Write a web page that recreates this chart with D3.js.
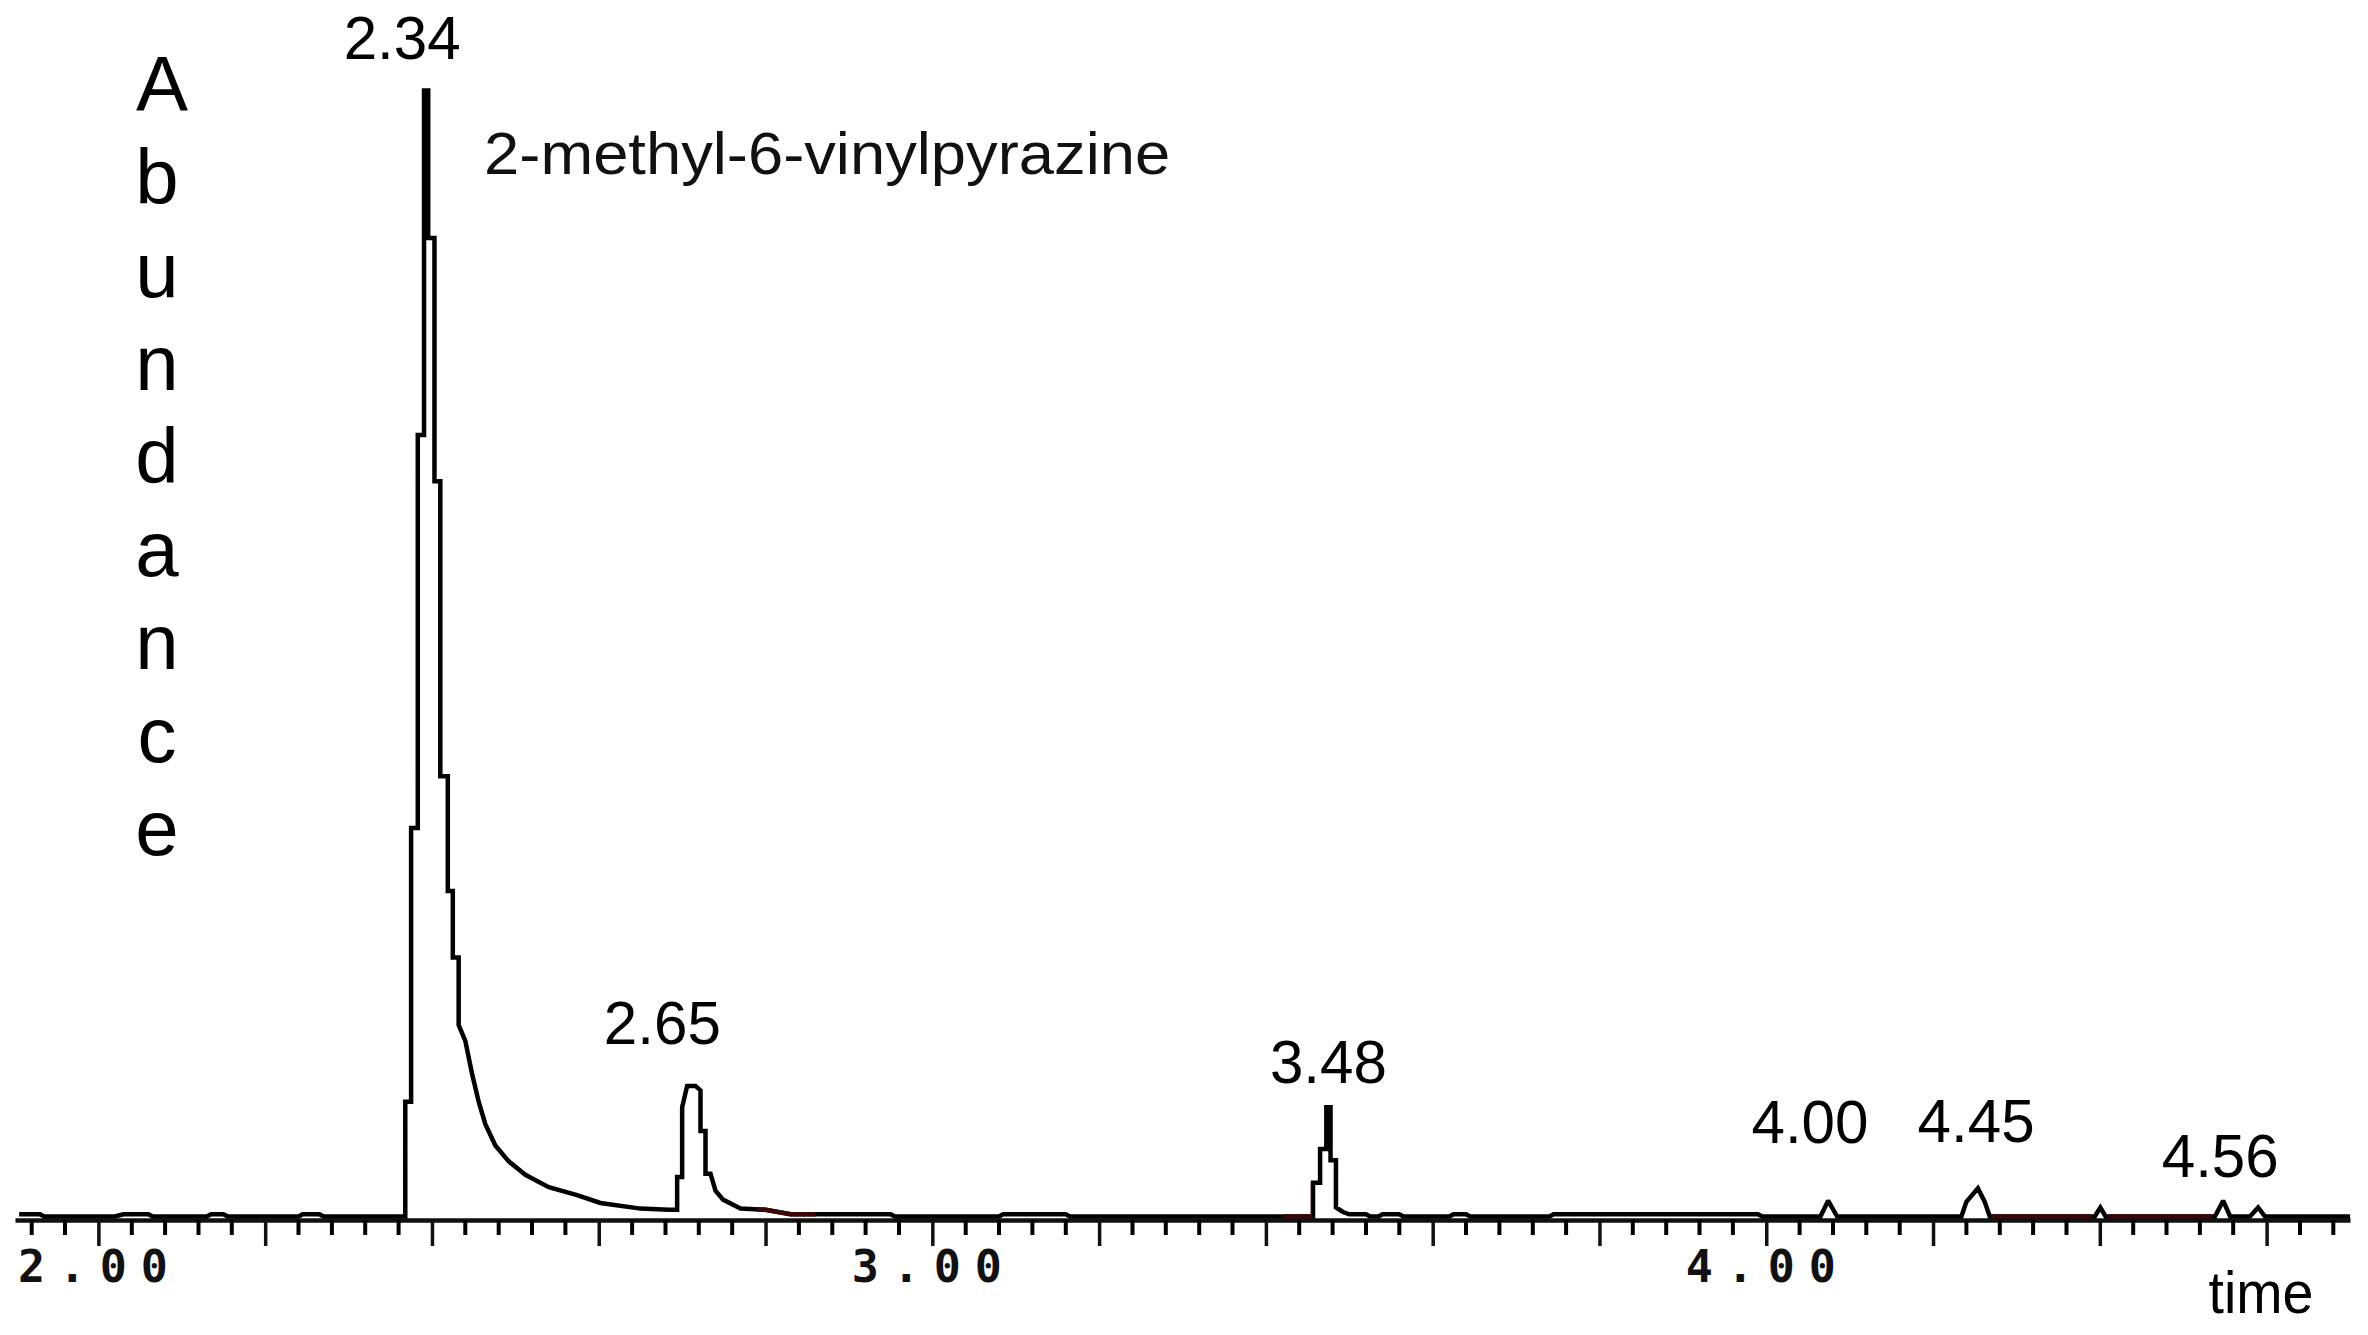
<!DOCTYPE html>
<html>
<head>
<meta charset="utf-8">
<script src="https://cdn.jsdelivr.net/npm/d3@7"></script>
<style>
  html, body { margin: 0; padding: 0; background: #ffffff; }
  svg { display: block; }
</style>
</head>
<body>
<svg id="chart" width="2368" height="1335"></svg>
<script>
// ---------------- DATA (retention time [min], relative abundance [%]) ----------------
const baselineLeadTrace = [
  [1.905, 0.2], [1.930, 0.2], [1.935, 0.0], [2.02, 0.0], [2.03, 0.2], [2.06, 0.2], [2.065, 0.0],
  [2.13, 0.0], [2.135, 0.2], [2.15, 0.2], [2.155, 0.0], [2.24, 0.0], [2.245, 0.2], [2.265, 0.2],
  [2.27, 0.0], [2.368, 0.0]
];
const mainPeakTrace = [
  [2.368, 10.2], [2.375, 10.2], [2.375, 34.5], [2.383, 34.5], [2.383, 69.4], [2.3905, 69.4],
  [2.3905, 100], [2.3955, 100], [2.3955, 86.9], [2.403, 86.9], [2.403, 65.3], [2.410, 65.3],
  [2.410, 39.1], [2.419, 39.1], [2.419, 28.9], [2.425, 28.9], [2.425, 23.0], [2.432, 23.0],
  [2.432, 17.0], [2.440, 15.6], [2.448, 12.7], [2.456, 10.2], [2.464, 8.2], [2.476, 6.3],
  [2.492, 4.9], [2.512, 3.7], [2.540, 2.6], [2.574, 1.9], [2.602, 1.2], [2.650, 0.7], [2.684, 0.6]
];
const secondPeakTrace = [
  [2.694, 0.6], [2.694, 3.5], [2.700, 3.5], [2.700, 9.7], [2.706, 11.6], [2.716, 11.6],
  [2.722, 11.2], [2.722, 7.6], [2.728, 7.6], [2.728, 3.8], [2.734, 3.8], [2.740, 2.3],
  [2.749, 1.5], [2.770, 0.7], [2.800, 0.6], [2.830, 0.2], [2.95, 0.2], [2.955, 0.0]
];
const thirdPeakTrace = [
  [3.08, 0.0], [3.085, 0.2], [3.16, 0.2], [3.165, 0.0], [3.44, 0.0], [3.4565, 0.0],
  [3.4565, 3.0], [3.465, 3.0], [3.465, 6.0], [3.4725, 6.0], [3.4725, 9.7], [3.4775, 9.7],
  [3.4775, 5.0], [3.484, 5.0], [3.484, 0.8], [3.4925, 0.4], [3.50, 0.2], [3.52, 0.2],
  [3.525, 0.0], [3.535, 0.0], [3.54, 0.2], [3.56, 0.2], [3.565, 0.0], [3.62, 0.0],
  [3.625, 0.2], [3.64, 0.2], [3.645, 0.0]
];
const minorPeaksTrace = [
  [3.74, 0.0], [3.745, 0.2], [3.99, 0.2], [3.995, 0.0], [4.065, 0.0], [4.0742, 1.4],
  [4.085, 0.0], [4.234, 0.0], [4.240, 1.3], [4.2538, 2.5], [4.262, 1.3], [4.268, 0.0],
  [4.394, 0.0], [4.4006, 0.8], [4.407, 0.0], [4.538, 0.0], [4.5479, 1.4], [4.5563, 0.0],
  [4.580, 0.0], [4.5899, 0.8], [4.598, 0.0], [4.70, 0.0]
];
const darkRedTraceRanges = [[2.79, 2.86], [3.42, 3.455], [4.27, 4.39], [4.41, 4.535]];
const tickLabelValues = [2, 3, 4];
const tickLabels = ["2.00", "3.00", "4.00"];
const peakLabels = ["2.34", "2.65", "3.48", "4.00", "4.45", "4.56"];
const peakApexTimes = [2.393, 2.711, 3.475, 4.074, 4.254, 4.548];
const peakApexAbundance = [100, 11.6, 9.7, 1.4, 2.5, 1.4];
const compoundName = "2-methyl-6-vinylpyrazine";
const yAxisTitle = "Abundance";
const xAxisTitle = "time";

// ---------------- LAYOUT / STYLE ----------------
const trace = [].concat(baselineLeadTrace, mainPeakTrace, secondPeakTrace, thirdPeakTrace, minorPeaksTrace);
const majorTickValues = [];
for (let i = 0; i <= 13; i++) majorTickValues.push(Math.round((2 + i * 0.2) * 100) / 100);
const minorTickValues = [];
for (let i = 0; i < 70; i++) {
  const v = Math.round((1.92 + i * 0.04) * 100) / 100;
  if (!majorTickValues.some(m => Math.abs(m - v) < 1e-6)) minorTickValues.push(v);
}
const labelOffsets = [[-24, -32], [-29, -42], [0, -24], [-18, -58], [-2, -46], [-3, -24]];

const svg = d3.select("#chart");
svg.append("rect").attr("width", 2368).attr("height", 1335).attr("fill", "#ffffff");

const x = d3.scaleLinear().domain([1.9, 4.7]).range([15, 2350]);
const y = d3.scaleLinear().domain([0, 100]).range([1216.5, 90.5]);

const axisY = 1220;

// major axis with labels
const majorAxis = d3.axisBottom(x).tickValues(majorTickValues).tickSize(26).tickSizeOuter(0)
  .tickFormat(d => {
    const i = tickLabelValues.findIndex(v => Math.abs(v - d) < 1e-6);
    return i >= 0 ? tickLabels[i] : "";
  });
const gMajor = svg.append("g").attr("transform", `translate(0,${axisY})`).call(majorAxis);
gMajor.select(".domain").attr("stroke", "#111").attr("stroke-width", 4.5);
gMajor.selectAll(".tick line").attr("stroke", "#111").attr("stroke-width", 3.5);
gMajor.selectAll(".tick text")
  .attr("fill", "#111")
  .attr("y", 62).attr("dy", null).attr("x", -6)
  .style("font-family", "'DejaVu Sans Mono', monospace")
  .style("font-weight", "bold")
  .style("font-size", "45px")
  .attr("text-anchor", "middle")
  .each(function () { if (this.textContent) d3.select(this).attr("textLength", 150).attr("lengthAdjust", "spacing"); });

// minor ticks, drawn as one path through the x scale
const minorPath = minorTickValues.map(v => `M${x(v).toFixed(1)},${axisY}v15`).join("");
svg.append("path")
  .attr("class", "minor-ticks")
  .attr("d", minorPath)
  .attr("fill", "none")
  .attr("stroke", "#000")
  .attr("stroke-width", 4);

// chromatogram trace
const line = d3.line().x(d => x(d[0])).y(d => y(d[1]));
svg.append("path")
  .datum(trace)
  .attr("d", line)
  .attr("fill", "none")
  .attr("stroke", "#000")
  .attr("stroke-width", 4.5)
  .attr("stroke-linejoin", "miter")
  .attr("stroke-miterlimit", 2);

// dark red portions of the baseline trace
const defs = svg.append("defs");
darkRedTraceRanges.forEach((r, i) => {
  defs.append("clipPath").attr("id", "redclip" + i)
    .append("rect").attr("x", x(r[0])).attr("width", x(r[1]) - x(r[0]))
    .attr("y", y(3)).attr("height", y(0) - y(3) + 2);
  svg.append("path")
    .datum(trace)
    .attr("d", line)
    .attr("clip-path", `url(#redclip${i})`)
    .attr("fill", "none")
    .attr("stroke", "#3d0606")
    .attr("stroke-width", 4.5);
});

// peak labels
svg.append("g").selectAll("text")
  .data(peakLabels)
  .join("text")
  .attr("x", (d, i) => x(peakApexTimes[i]) + labelOffsets[i][0])
  .attr("y", (d, i) => y(peakApexAbundance[i]) + labelOffsets[i][1])
  .attr("text-anchor", "middle")
  .attr("textLength", 117)
  .attr("lengthAdjust", "spacingAndGlyphs")
  .style("font-family", "'Liberation Sans', Arial, sans-serif")
  .style("font-size", "62px")
  .attr("fill", "#000")
  .text(d => d);

// compound annotation next to main peak
svg.append("text")
  .attr("x", x(peakApexTimes[0]) + 58)
  .attr("y", 174)
  .attr("textLength", 686)
  .attr("lengthAdjust", "spacingAndGlyphs")
  .style("font-family", "'Liberation Sans', Arial, sans-serif")
  .style("font-size", "60px")
  .attr("fill", "#111")
  .text(compoundName);

// vertical y-axis title, one letter per line
svg.append("g").selectAll("text")
  .data(yAxisTitle.split(""))
  .join("text")
  .attr("x", (d, i) => i === 0 ? 162 : 157)
  .attr("y", (d, i) => 111 + i * 93)
  .attr("text-anchor", "middle")
  .style("font-family", "'Liberation Sans', Arial, sans-serif")
  .style("font-size", "78px")
  .attr("fill", "#000")
  .text(d => d);

// x-axis title
svg.append("text")
  .attr("x", 2261)
  .attr("y", 1313)
  .attr("text-anchor", "middle")
  .attr("textLength", 105)
  .attr("lengthAdjust", "spacingAndGlyphs")
  .style("font-family", "'Liberation Sans', Arial, sans-serif")
  .style("font-size", "60px")
  .attr("fill", "#000")
  .text(xAxisTitle);
</script>
</body>
</html>
